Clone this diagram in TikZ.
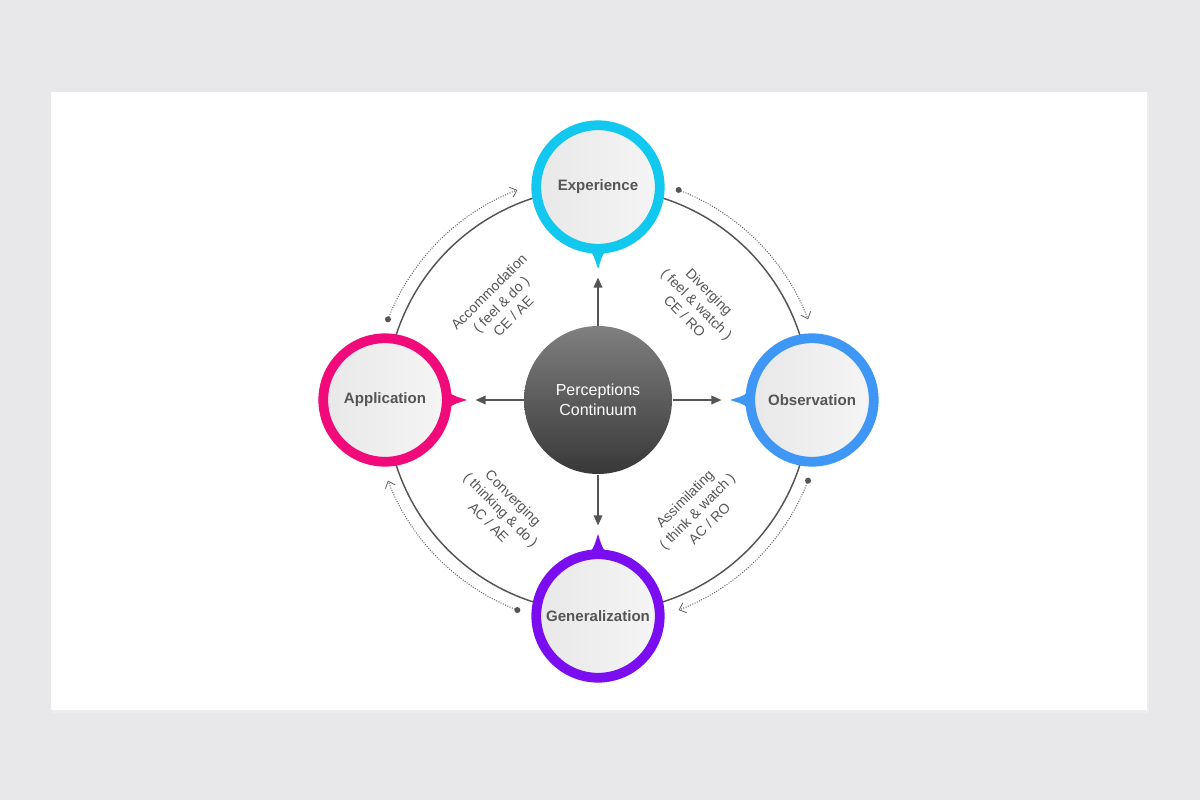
\documentclass[tikz,border=0pt]{standalone}
\usepackage{fontspec}
\setmainfont{Liberation Sans}
\usetikzlibrary{arrows.meta}

\definecolor{bgcol}{RGB}{232,231,233}
\definecolor{txtgray}{RGB}{85,85,85}
\definecolor{expcol}{RGB}{18,200,238}
\definecolor{obscol}{RGB}{62,150,245}
\definecolor{appcol}{RGB}{240,10,122}
\definecolor{gencol}{RGB}{122,14,240}

\tikzset{every picture/.style={line width=0.75pt}}

\begin{document}
\begin{tikzpicture}[x=0.75pt,y=0.75pt,yscale=-1,xscale=1,
  station/.style={circle, draw, line width=7.3pt, minimum size=92.6pt, inner sep=0pt,
    left color=white!91!black, right color=white!96!black,
    text=txtgray, font=\bfseries\fontsize{11.3}{13}\selectfont},
  hub/.style={circle, minimum size=111pt, inner sep=0pt, top color=black!50, bottom color=black!78,
    text=white, align=center, font=\fontsize{12}{15}\selectfont},
  spoke/.style={txtgray, line width=1pt, -{Triangle[length=7.5pt,width=6.5pt]}, shorten >=18pt},
  flowarc/.style={black!62, line width=0.75pt, dash pattern=on 0.75pt off 1.1pt,
    -{Straight Barb[length=4.5pt,width=8pt,line width=0.6pt]}},
  style label/.style={text=txtgray, align=center, font=\fontsize{10.5}{13}\selectfont}]

	%Background and card
	\fill [bgcol] (0,0) rectangle (1200,800) ;
	\fill [black!7] (52,95) rectangle (1149,713) ;
	\fill [white] (51,92) rectangle (1147,710) ;

	\coordinate (c) at (598,400) ;
	%Shape: Circle (cycle line)
	\draw [txtgray, line width=1.1pt] (c) circle (212) ;

	%Dotted flow arcs
	\foreach \a in {0,90,180,270}{
		\draw [flowarc] ([shift={(\a+21:225)}]c) arc (\a+21:\a+69:225) ;
		\fill [txtgray] ([shift={(\a+21:225)}]c) circle (3) ;
	}

	%Stations
	\node [station, draw=expcol] (exp) at (598,187) {Experience} ;
	\node [station, draw=obscol] (obs) at (812,400) {Observation} ;
	\node [station, draw=gencol] (gen) at (598,616) {Generalization} ;
	\node [station, draw=appcol] (app) at (385,400) {Application} ;

	%Pointers
	\begin{scope}[shift={(exp.center)}]
		\fill [expcol] (-14,59) .. controls (-5,66) .. (0,82) .. controls (5,66) .. (14,59) -- cycle ;
	\end{scope}
	\begin{scope}[shift={(obs.center)}, rotate=90]
		\fill [obscol] (-14,59) .. controls (-5,66) .. (0,82) .. controls (5,66) .. (14,59) -- cycle ;
	\end{scope}
	\begin{scope}[shift={(app.center)}, rotate=-90]
		\fill [appcol] (-14,59) .. controls (-5,66) .. (0,82) .. controls (5,66) .. (14,59) -- cycle ;
	\end{scope}
	\begin{scope}[shift={(gen.center)}, rotate=180]
		\fill [gencol] (-14,59) .. controls (-5,66) .. (0,82) .. controls (5,66) .. (14,59) -- cycle ;
	\end{scope}

	%Hub
	\node [hub] (pc) at (c) {Perceptions\\Continuum} ;

	%Spokes
	\draw [spoke] (pc) -- (exp) ;
	\draw [spoke] (pc) -- (obs) ;
	\draw [spoke] (pc) -- (gen) ;
	\draw [spoke] (pc) -- (app) ;

	% Text Node
	\node [style label, rotate=45] (acc) at (501,304) {Accommodation\\( feel \& do )\\CE / AE} ;
	% Text Node
	\node [style label, rotate=-45] (div) at (697,304) {Diverging\\( feel \& watch )\\CE / RO} ;
	% Text Node
	\node [style label, rotate=-45] (con) at (501,510) {Converging\\( thinking \& do )\\AC / AE} ;
	% Text Node
	\node [style label, rotate=45] (ass) at (697,511) {Assimilating\\( think \& watch )\\AC / RO} ;

\end{tikzpicture}
\end{document}
